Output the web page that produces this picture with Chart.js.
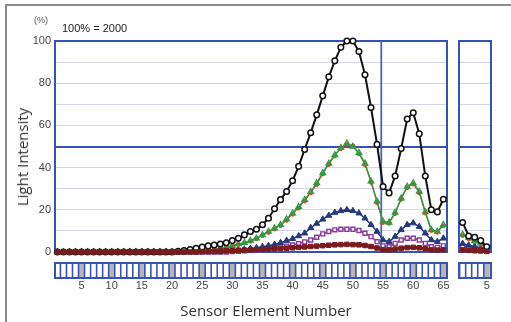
<!DOCTYPE html>
<html><head><meta charset="utf-8">
<script src="https://cdn.jsdelivr.net/npm/chart.js@4.4.1/dist/chart.umd.min.js"></script>
<style>
html,body{margin:0;padding:0;background:#fff;}
#wrap{position:relative;width:511px;height:322px;overflow:hidden;font-family:"Liberation Sans",Arial,sans-serif;}
#border{position:absolute;left:5px;top:4px;width:540px;height:340px;border-left:2px solid #8c8c8c;border-top:2px solid #8c8c8c;}
canvas{position:absolute;top:0;}
.t{position:absolute;white-space:nowrap;color:#333;}
</style></head><body>
<div id="wrap">
<div id="border"></div>
<canvas id="main" width="511" height="322" style="left:0"></canvas>
<canvas id="side" width="61" height="322" style="left:450px"></canvas>
<div class="t" style="left:34px;top:15px;font-size:9px;color:#555">(%)</div>
<div class="t" style="left:62px;top:22px;font-size:11px;color:#222">100% = 2000</div>
<div class="t" style="left:22px;top:157px;font-size:15px;font-family:'Open Sans',sans-serif;transform:translate(-50%,-50%) rotate(-90deg);line-height:18px">Light Intensity</div>
<div class="t" style="left:266px;top:310px;font-size:15px;font-family:'Open Sans',sans-serif;transform:translate(-50%,-50%);line-height:18px">Sensor Element Number</div>
</div>
<script>
// ---------- data ----------
const mainElements = [1,2,3,4,5,6,7,8,9,10,11,12,13,14,15,16,17,18,19,20,21,22,23,24,25,26,27,28,29,30,31,32,33,34,35,36,37,38,39,40,41,42,43,44,45,46,47,48,49,50,51,52,53,54,55,56,57,58,59,60,61,62,63,64,65];
const sideElements = [1,2,3,4,5];
const mainTickValues = [5,10,15,20,25,30,35,40,45,50,55,60,65];
const sideTickValues = [5];
const dividerElements = [54.7];

const blackMain = [0,0,0,0,0,0,0,0,0,0,0,0,0,0,0,0,0,0,0,0,0.3,0.7,1.2,1.8,2.3,2.9,3.3,3.8,4.4,5.4,6.5,8.1,9.7,10.8,12.9,16,20.5,24.8,28.7,33.8,40.6,48.6,56.5,65,74,83,90.6,97,100,100,95,84,68.5,51,31,28,36,49,63,66,56,36,20,19,25];
const greenMain = [0,0,0,0,0,0,0,0,0,0,0,0,0,0,0,0,0,0,0,0,0,0,0,0,0.4,0.8,1.2,1.7,2.3,3,3.8,4.4,5.4,6.5,8.1,9.7,11.3,12.9,15.6,18.4,21.4,24.8,28.5,32.7,37.5,42,46,49.4,51.5,50,47,42,33.5,24,14.4,14,18.7,25.5,31,32.7,28.7,19,10.5,9.7,12.9];
const redMain = [0,0,0,0,0,0,0,0,0,0,0,0,0,0,0,0,0,0,0,0,0,0,0,0,0.3,0.7,1.1,1.6,2.2,2.8,3.5,4.2,5.1,6.2,7.8,9.3,10.9,12.5,15,17.9,20.8,24.2,28,32,37,41.5,45.5,49,51,50.2,46.5,41.3,33,23.4,14,13.6,18.2,25,30.5,32.2,28,18.5,10.2,9.4,12.4];
const navyMain = [0,0,0,0,0,0,0,0,0,0,0,0,0,0,0,0,0,0,0,0,0,0,0,0,0,0,0,0,0.3,0.5,0.8,1.2,1.6,2,2.5,3,3.6,4.4,5.4,6.3,7.6,8.9,11.5,13.5,15.5,17.3,18.7,19.5,20,19.5,18.4,16,12.9,9.7,5.7,4.9,7.3,10.5,12.9,13.7,12,8.9,5.7,4.9,6.5];
const purpleMain = [0,0,0,0,0,0,0,0,0,0,0,0,0,0,0,0,0,0,0,0,0,0,0,0,0,0,0,0,0,0.2,0.3,0.5,0.8,1,1.3,1.6,2,2.3,2.8,3.3,4,4.8,5.7,7,8.6,9.7,10.5,10.8,10.8,10.8,10.2,8.9,7.3,4.9,2.9,2.5,4.1,5.7,6.5,6.5,5.7,4.1,2.5,2.2,2.9];
const darkRedMain = [0,0,0,0,0,0,0,0,0,0,0,0,0,0,0,0,0,0,0,0,0,0,0,0,0.2,0.3,0.4,0.5,0.6,0.7,0.8,0.9,1,1.1,1.2,1.3,1.5,1.6,1.8,2,2.2,2.4,2.6,2.8,3,3.2,3.4,3.5,3.6,3.5,3.4,3.1,2.6,1.9,1.1,1,1.4,1.8,2.1,2.2,2,1.5,1,0.9,1.1];

const blackSide = [14,7.6,7,5.4,2.5];
const greenSide = [8.3,6.8,5.2,4.1,2];
const redSide = [7.8,6.2,4.8,3.6,1.6];
const navySide = [4,3.2,2.6,2,1];
const purpleSide = [2.5,2,1.5,1,0.5];
const darkRedSide = [1,0.8,0.6,0.5,0.3];

// ---------- styles ----------
const BLUE = '#3652b4';
const GRID = '#d3d4f0';
const FONT = "'Liberation Sans', Arial, sans-serif";
const styles = {
  darkred:{label:'dark red',borderColor:'#7a1c1c',backgroundColor:'#7a1c1c',pointStyle:'rect',pointRadius:3.2,pointBorderWidth:1,borderWidth:3},
  black:{label:'black',borderColor:'#111',backgroundColor:'#fff',pointStyle:'circle',pointRadius:2.8,pointBorderWidth:1.5,borderWidth:2},
  green:{label:'green',borderColor:'#2f9a3f',backgroundColor:'rgba(255,255,255,0)',pointStyle:'triangle',pointRadius:3.3,pointBorderWidth:1.2,borderWidth:1.5},
  red:{label:'red',borderColor:'#e8452c',backgroundColor:'#e8452c',pointStyle:'circle',pointRadius:2,pointBorderWidth:1,borderWidth:1},
  navy:{label:'navy',borderColor:'#27377c',backgroundColor:'#27377c',pointStyle:'triangle',pointRadius:3.5,pointBorderWidth:1,borderWidth:1.5},
  purple:{label:'purple',borderColor:'#8b3a9c',backgroundColor:'#fff',pointStyle:'rect',pointRadius:2.8,pointBorderWidth:1.4,borderWidth:1.5}
};

function ds(style, xs, ys){
  return Object.assign({}, style, {data: xs.map((x,i)=>({x:x,y:ys[i]})), tension:0, clip:false});
}

const panelPlugin = {
  id:'panel',
  beforeDatasetsDraw(chart, args, o){
    const {ctx, chartArea:a, scales:{x}} = chart;
    ctx.save();
    ctx.strokeStyle = BLUE; ctx.lineWidth = 2;
    ctx.strokeRect(a.left, a.top, a.right-a.left, a.bottom-a.top);
    ctx.lineWidth = 1.8; ctx.strokeStyle = '#4b63bd';
    (o.dividers||[]).forEach(v=>{
      const px = x.getPixelForValue(v);
      ctx.beginPath(); ctx.moveTo(px,a.top); ctx.lineTo(px,a.bottom); ctx.stroke();
    });
    ctx.restore();
  },
  afterDraw(chart, args, o){
    const {ctx, chartArea:a, scales:{x}} = chart;
    const top = a.bottom + 11, h = 15;
    ctx.save();
    ctx.beginPath(); ctx.rect(a.left-1, top-2, a.right-a.left+2, h+4); ctx.clip();
    o.cells.forEach(e=>{
      const l = x.getPixelForValue(e-0.5), r = x.getPixelForValue(e+0.5);
      ctx.fillStyle = (e % 5 === 0) ? '#b6b6b6' : '#fff';
      ctx.fillRect(l, top, r-l, h);
      ctx.strokeStyle = BLUE; ctx.lineWidth = 1.6;
      ctx.beginPath(); ctx.moveTo(l, top); ctx.lineTo(l, top+h); ctx.stroke();
    });
    ctx.restore();
    ctx.save();
    ctx.strokeStyle = BLUE; ctx.lineWidth = 2;
    ctx.strokeRect(a.left, top, a.right-a.left, h);
    ctx.restore();
  }
};

function yScale(width, showTicks){
  return {
    min:0, max:100,
    ticks:{display:showTicks, stepSize:10, padding:4, color:'#444', font:{family:FONT,size:11},
      callback:v=> (v % 20 === 0) ? String(v) : ''},
    grid:{drawTicks:false,
      color:c=> (c.tick && c.tick.value===50) ? BLUE : ((c.tick && (c.tick.value===0||c.tick.value===100)) ? 'rgba(0,0,0,0)' : GRID),
      lineWidth:c=> (c.tick && c.tick.value===50) ? 2 : 1},
    border:{display:false},
    afterFit:s=>{ s.width = width; s.paddingTop = 0; s.paddingBottom = 0; }
  };
}
function xScale(min, max, tickVals){
  return {
    type:'linear', min:min, max:max,
    afterBuildTicks:s=>{ s.ticks = tickVals.map(v=>({value:v})); },
    ticks:{autoSkip:false, maxRotation:0, padding:27, color:'#444', font:{family:FONT,size:11}, callback:v=>String(v)},
    grid:{display:false, drawTicks:false},
    border:{display:false},
    afterFit:s=>{ s.height = 70; s.paddingLeft = 0; s.paddingRight = 0; }
  };
}

function makeChart(id, xs, series, xmin, xmax, ticks, yWidth, showY, padding, dividers){
  return new Chart(document.getElementById(id), {
    type:'line',
    data:{datasets:[
      ds(styles.darkred, xs, series[5]),
      ds(styles.black, xs, series[0]),
      ds(styles.green, xs, series[1]),
      ds(styles.red, xs, series[2]),
      ds(styles.navy, xs, series[3]),
      ds(styles.purple, xs, series[4])
    ]},
    options:{
      responsive:false, animation:false, devicePixelRatio:1,
      layout:{padding:padding, autoPadding:false},
      plugins:{legend:{display:false}, tooltip:{enabled:false}, panel:{dividers:dividers, cells:xs}},
      scales:{x:xScale(xmin,xmax,ticks), y:yScale(yWidth, showY)}
    },
    plugins:[panelPlugin]
  });
}

makeChart('main', mainElements, [blackMain,greenMain,redMain,navyMain,purpleMain,darkRedMain],
  0.6, 65.6, mainTickValues, 55, true, {left:0, top:41, right:64, bottom:0}, dividerElements);
makeChart('side', sideElements, [blackSide,greenSide,redSide,navySide,purpleSide,darkRedSide],
  0.4, 5.7, sideTickValues, 9, false, {left:0, top:41, right:20, bottom:0}, []);
</script>
</body></html>
